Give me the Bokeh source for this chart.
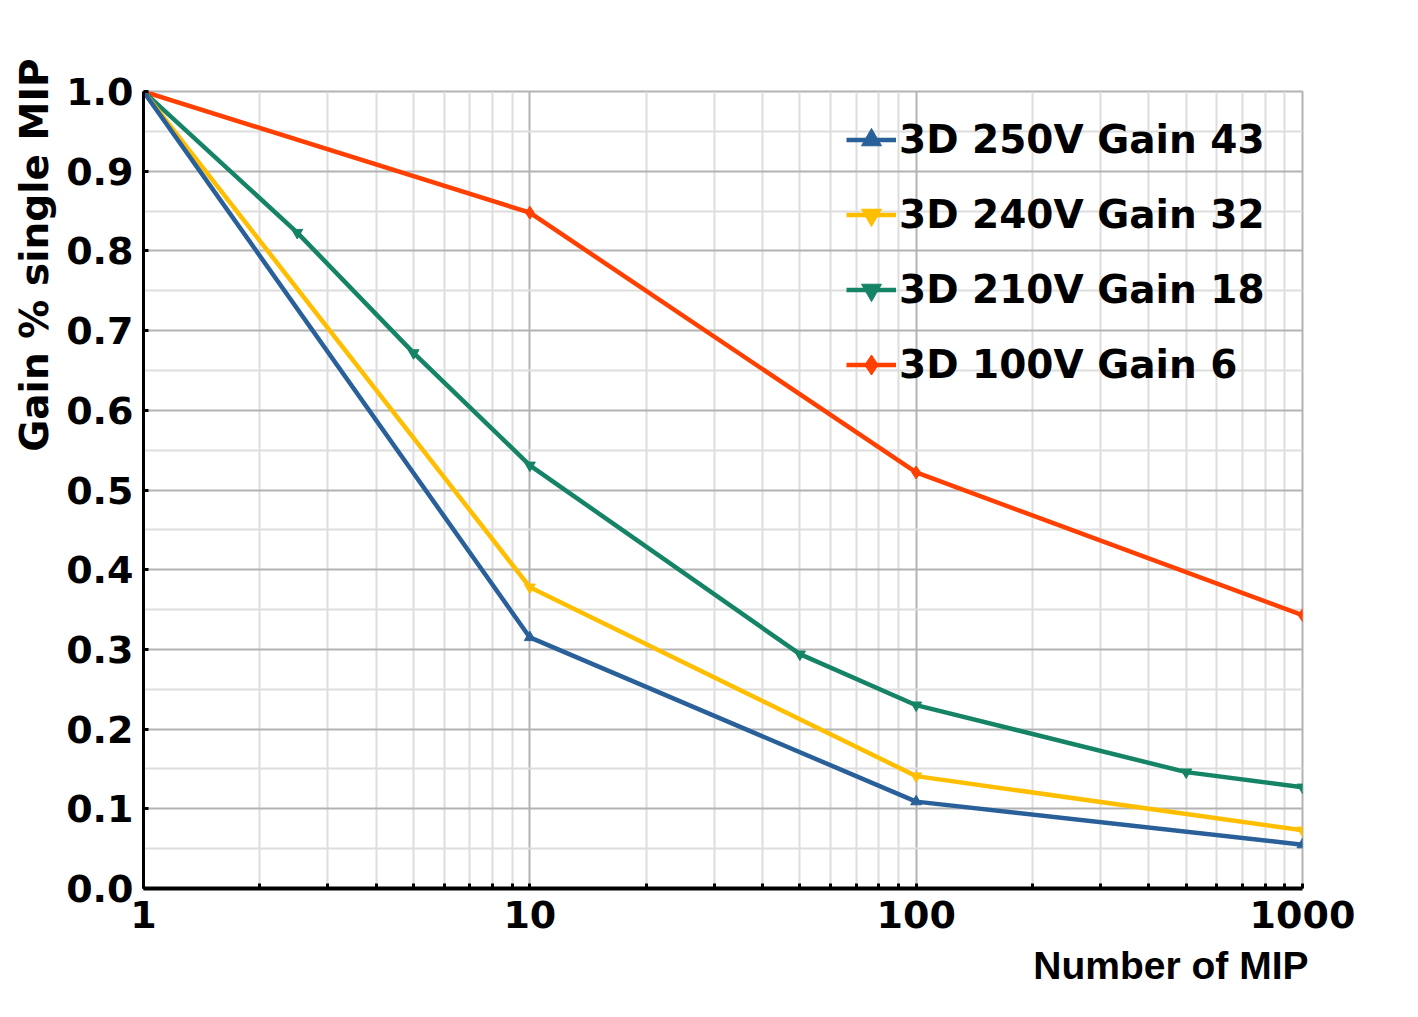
import math
from bokeh.plotting import figure
from bokeh.models import (FixedTicker, NumeralTickFormatter, Legend, LegendItem, Title)
from bokeh.embed import file_html
from bokeh.resources import INLINE

# ---- data ----
x_main = [1, 10, 100, 1000]
gain_250v = [1.0, 0.315, 0.109, 0.055]
gain_240v = [1.0, 0.378, 0.141, 0.073]
gain_100v = [1.0, 0.848, 0.522, 0.343]
x_210v = [1, 2.5, 5, 10, 50, 100, 500, 1000]
gain_210v = [1.0, 0.823, 0.672, 0.531, 0.294, 0.230, 0.146, 0.127]

series_labels = ["3D 250V Gain 43", "3D 240V Gain 32", "3D 210V Gain 18", "3D 100V Gain 6"]
x_ticks = [1, 10, 100, 1000]
x_minor = [2, 3, 4, 5, 6, 7, 8, 9, 20, 30, 40, 50, 60, 70, 80, 90,
           200, 300, 400, 500, 600, 700, 800, 900]
y_ticks = [0.0, 0.1, 0.2, 0.3, 0.4, 0.5, 0.6, 0.7, 0.8, 0.9, 1.0]
y_minor = [0.05, 0.15, 0.25, 0.35, 0.45, 0.55, 0.65, 0.75, 0.85, 0.95]
x_title = "Number of MIP"
y_title = "Gain % single MIP"

BLUE = "#2a6099"
YELLOW = "#ffbf00"
GREEN = "#158466"
RED = "#ff4000"

p = figure(width=1418, height=1017, x_axis_type="log",
           x_range=(1, 1000), y_range=(0, 1.0),
           output_backend="svg", toolbar_location=None,
           min_border_left=143, min_border_right=116,
           min_border_top=91, min_border_bottom=129)
p.background_fill_color = "white"
p.border_fill_color = "white"
p.outline_line_color = "#b3b3b3"
p.outline_line_width = 2

p.xaxis.ticker = FixedTicker(ticks=x_ticks, minor_ticks=x_minor)
p.yaxis.ticker = FixedTicker(ticks=y_ticks, minor_ticks=y_minor)
p.xaxis.formatter = NumeralTickFormatter(format="0")
p.yaxis.formatter = NumeralTickFormatter(format="0.0")

for ax in (p.xaxis[0], p.yaxis[0]):
    ax.axis_line_color = "black"
    ax.major_tick_line_color = "black"
    ax.major_tick_in = 5
    ax.major_tick_out = 0
    ax.major_tick_line_width = 3
    ax.major_label_text_font = "DejaVu Sans"
    ax.major_label_text_font_style = "bold"
    ax.major_label_text_font_size = "38px"
    ax.major_label_text_color = "black"
p.xaxis.axis_line_width = 4
p.yaxis.axis_line_width = 3
p.xaxis.minor_tick_line_color = "black"
p.xaxis.minor_tick_in = 5
p.xaxis.minor_tick_out = 0
p.xaxis.minor_tick_line_width = 3
p.yaxis.minor_tick_line_color = None
p.xaxis.major_label_standoff = 12
p.yaxis.major_label_standoff = 6

for g in (p.xgrid[0], p.ygrid[0]):
    g.grid_line_color = "#b3b3b3"
    g.grid_line_width = 2
    g.minor_grid_line_color = "#dddddd"
    g.minor_grid_line_width = 2

# series (drawn so the blue one is on top)
r_red_l = p.line(x_main, gain_100v, line_color=RED, line_width=4.5)
r_red_m = p.scatter(x_main, gain_100v, marker="diamond", size=13, color=RED)
r_grn_l = p.line(x_210v, gain_210v, line_color=GREEN, line_width=4.5)
r_grn_m = p.scatter(x_210v, gain_210v, marker="inverted_triangle", size=11, color=GREEN)
r_yel_l = p.line(x_main, gain_240v, line_color=YELLOW, line_width=4.5)
r_yel_m = p.scatter(x_main, gain_240v, marker="inverted_triangle", size=11, color=YELLOW)
r_blu_l = p.line(x_main, gain_250v, line_color=BLUE, line_width=4.5)
r_blu_m = p.scatter(x_main, gain_250v, marker="triangle", size=11, color=BLUE)

legend = Legend(items=[
    LegendItem(label=series_labels[0], renderers=[r_blu_l, r_blu_m]),
    LegendItem(label=series_labels[1], renderers=[r_yel_l, r_yel_m]),
    LegendItem(label=series_labels[2], renderers=[r_grn_l, r_grn_m]),
    LegendItem(label=series_labels[3], renderers=[r_red_l, r_red_m]),
], location=(703, 486))
legend.label_text_font = "DejaVu Sans"
legend.label_text_font_style = "bold"
legend.label_text_font_size = "39px"
legend.label_text_color = "black"
legend.glyph_height = 75
legend.glyph_width = 50
legend.spacing = 0
legend.padding = 0
legend.margin = 0
legend.label_standoff = 3
legend.background_fill_alpha = 0
legend.border_line_color = None
p.add_layout(legend, "center")

xt = Title(text=x_title, align="right", offset=-6, standoff=22,
           text_font="Liberation Sans", text_font_style="bold",
           text_font_size="39px", text_color="black")
yt = Title(text=y_title, align="right", offset=-33, standoff=13,
           text_font="DejaVu Sans", text_font_style="bold",
           text_font_size="39px", text_color="black")
p.add_layout(xt, "below")
p.add_layout(yt, "left")

open("out.html", "w").write(file_html(p, INLINE))
